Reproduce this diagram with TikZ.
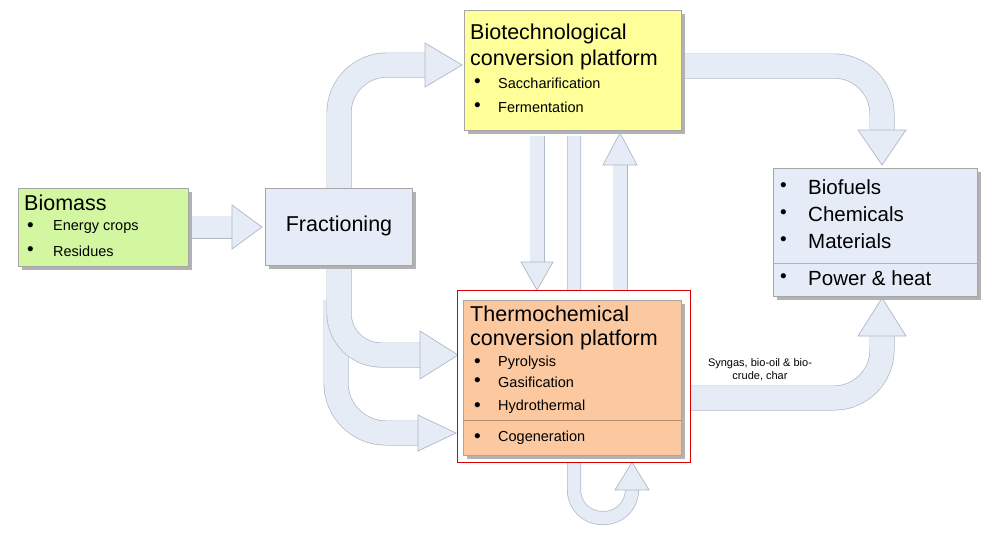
\documentclass[tikz,border=0pt]{standalone}
\usepackage{fontspec}
\setmainfont{Liberation Sans}
\begin{document}
\begin{tikzpicture}[x=1pt,y=-1pt,
  shadow/.style={fill=black!30,draw=none},
  box/.style={draw=black!35,line width=0.6pt},
  shaftO/.style={draw=arrB,line width=#1,line cap=butt},
  shaftI/.style={draw=arrF,line width=#1,line cap=butt},
  head/.style={fill=arrF,draw=arrB,line width=0.7pt,line join=miter},
  ttl/.style={anchor=west,font=\fontsize{21.5}{22}\selectfont,inner sep=0},
  itm/.style={anchor=west,font=\fontsize{14.5}{16}\selectfont,inner sep=0},
  bul/.style={anchor=west,font=\fontsize{19}{16}\selectfont,inner sep=0},
  big/.style={anchor=west,font=\fontsize{20.5}{22}\selectfont,inner sep=0}]
\definecolor{arrF}{HTML}{E6ECF6}
\definecolor{arrB}{HTML}{AEB8C8}
\definecolor{grn}{HTML}{D3F7A1}
\definecolor{yel}{HTML}{FFFF99}
\definecolor{org}{HTML}{FBC8A0}
\definecolor{pbox}{HTML}{E6ECF7}
\useasboundingbox (0,0) rectangle (1000,538);
\fill[white] (0,0) rectangle (1000,538);
% ---------- block arrows ----------
% Biomass -> Fractioning
\draw[shaftO=23pt] (186,227) -- (233,227);
\draw[shaftI=21.6pt] (186,227) -- (233,227);
\draw[head] (232,205) -- (262,227) -- (232,249) -- cycle;
% Fractioning -> Biotech
\draw[shaftO=25pt,rounded corners=48pt] (339,190) -- (339,65) -- (427,65);
\draw[shaftI=23.6pt,rounded corners=48pt] (339,190) -- (339,65) -- (427,65);
\draw[head] (425,43) -- (462,65) -- (425,87) -- cycle;
% Fractioning -> Thermo (lower, Cogeneration)
\draw[shaftO=25pt,rounded corners=50pt] (336,300) -- (336,433) -- (420,433);
\draw[shaftI=23.6pt,rounded corners=50pt] (336,300) -- (336,433) -- (420,433);
% Fractioning -> Thermo (Pyrolysis)
\draw[shaftO=25pt,rounded corners=42pt] (339,262) -- (339,355) -- (422,355);
\draw[shaftI=23.6pt,rounded corners=42pt] (339,262) -- (339,355) -- (422,355);
\draw[head] (420,331) -- (458,355) -- (420,379) -- cycle;
\draw[head] (418,415) -- (456,433) -- (418,451) -- cycle;
% Biotech -> Products
\draw[shaftO=25pt,rounded corners=48pt] (684,66) -- (882,66) -- (882,132);
\draw[shaftI=23.6pt,rounded corners=48pt] (684,66) -- (882,66) -- (882,132);
\draw[head] (858,130) -- (882,165) -- (906,130) -- cycle;
% Thermo -> Products
\draw[shaftO=25pt,rounded corners=48pt] (690,398) -- (882,398) -- (882,334);
\draw[shaftI=23.6pt,rounded corners=48pt] (690,398) -- (882,398) -- (882,334);
\draw[head] (858,336) -- (882,298) -- (906,336) -- cycle;
% Biotech down to Thermo
\draw[shaftO=15pt] (537,136) -- (537,264);
\draw[shaftI=13.6pt] (537,136) -- (537,264);
\draw[head] (521,262) -- (537,290) -- (553,262) -- cycle;
% Biotech up from Thermo
\draw[shaftO=15pt] (620,290) -- (620,163);
\draw[shaftI=13.6pt] (620,290) -- (620,163);
\draw[head] (603,165) -- (620,133) -- (637,165) -- cycle;
% loop line
\draw[shaftO=14pt,rounded corners=28pt] (574,136) -- (574,518) -- (632,518) -- (632,488);
\draw[shaftI=12.6pt,rounded corners=28pt] (574,136) -- (574,518) -- (632,518) -- (632,488);
\draw[head] (615,490) -- (632,462) -- (649,490) -- cycle;
% ---------- boxes ----------
% Biomass
\fill[shadow] (22,192) rectangle (192,270);
\draw[box,fill=grn] (18,188) rectangle (188,266);
\node[ttl] at (24,203) {Biomass};
\node[bul] at (27,227) {\textbullet}; \node[itm] at (53,227) {Energy crops};
\node[bul] at (27,251) {\textbullet}; \node[itm] at (53,251) {Residues};
% Fractioning
\fill[shadow] (269,192) rectangle (416,269);
\draw[box,fill=pbox] (265,188) rectangle (412,265);
\node[font=\fontsize{21.5}{22}\selectfont] (frac) at (339,226) {Fractioning};
% Biotech
\fill[shadow] (468,14) rectangle (685,134);
\draw[box,fill=yel] (464,10) rectangle (681,130);
\node[ttl] at (470,34) {Biotechnological};
\node[ttl] at (470,60) {conversion platform};
\node[bul] at (474,83) {\textbullet}; \node[itm] at (498,83) {Saccharification};
\node[bul] at (474,107) {\textbullet}; \node[itm] at (498,107) {Fermentation};
% Thermo
\draw[red!85!black,line width=0.8pt,fill=white] (457,290) rectangle (690,462);
\fill[shadow] (467,304) rectangle (685,459);
\draw[box,fill=org] (463,300) rectangle (681,455);
\draw[draw=black!30!org,line width=0.8pt] (463,420) -- (681,420);
\node[ttl] at (470,314) {Thermochemical};
\node[ttl] at (470,340) {conversion platform};
\node[bul] at (474,363) {\textbullet}; \node[itm] at (498,363) {Pyrolysis};
\node[bul] at (474,382) {\textbullet}; \node[itm] at (498,382) {Gasification};
\node[bul] at (474,407) {\textbullet}; \node[itm] at (498,407) {Hydrothermal};
\node[bul] at (474,438) {\textbullet}; \node[itm] at (498,438) {Cogeneration};
% Products
\fill[shadow] (777,172) rectangle (981,300);
\draw[box,fill=pbox] (773,168) rectangle (977,296);
\draw[draw=black!30,line width=0.6pt] (773,263) -- (977,263);
\node[bul] at (780,187) {\textbullet}; \node[big] at (808,187) {Biofuels};
\node[bul] at (780,214) {\textbullet}; \node[big] at (808,214) {Chemicals};
\node[bul] at (780,241) {\textbullet}; \node[big] at (808,241) {Materials};
\node[bul] at (780,278) {\textbullet}; \node[big] at (808,278) {Power \& heat};
% label
\node[align=center,font=\fontsize{11}{13}\selectfont] at (760,370) {Syngas, bio-oil \& bio-\\crude, char};
\end{tikzpicture}
\end{document}
